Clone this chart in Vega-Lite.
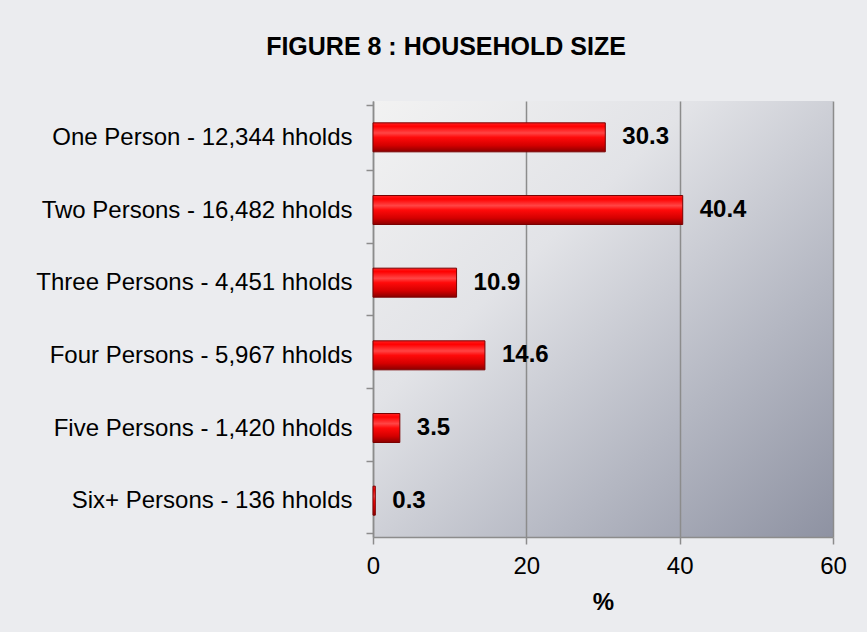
{
  "$schema": "https://vega.github.io/schema/vega-lite/v6.json",
  "autosize": "none",
  "width": 460,
  "height": 436,
  "padding": {"left": 373, "top": 101, "right": 34, "bottom": 95},
  "background": "#ebecef",
  "title": {
    "text": "FIGURE 8 : HOUSEHOLD SIZE",
    "font": "Liberation Sans",
    "fontSize": 25,
    "fontWeight": "bold",
    "color": "#000000",
    "anchor": "middle",
    "baseline": "alphabetic",
    "offset": 9,
    "dx": -157
  },
  "config": {
    "font": "Liberation Sans",
    "view": {
      "stroke": null,
      "fill": {
        "gradient": "linear",
        "x1": 0, "y1": 0, "x2": 1, "y2": 1,
        "stops": [
          {"offset": 0, "color": "#f2f2f2"},
          {"offset": 0.35, "color": "#e2e3e7"},
          {"offset": 0.7, "color": "#b4b7c2"},
          {"offset": 1, "color": "#8e92a2"}
        ]
      }
    }
  },
  "data": {
    "values": [
      {"label": "One Person - 12,344 hholds", "pct": 30.3},
      {"label": "Two Persons - 16,482 hholds", "pct": 40.4},
      {"label": "Three Persons - 4,451 hholds", "pct": 10.9},
      {"label": "Four Persons - 5,967 hholds", "pct": 14.6},
      {"label": "Five Persons - 1,420 hholds", "pct": 3.5},
      {"label": "Six+ Persons - 136 hholds", "pct": 0.3}
    ]
  },
  "encoding": {
    "y": {
      "field": "label",
      "type": "nominal",
      "sort": null,
      "axis": {
        "title": null,
        "tickBand": "extent",
        "tickSize": 7,
        "tickColor": "#8c8c8c",
        "tickWidth": 1.5,
        "domainColor": "#8c8c8c",
        "domainWidth": 1.5,
        "labelFontSize": 24,
        "labelColor": "#000000",
        "labelPadding": 14,
        "labelLimit": 400
      }
    },
    "x": {
      "field": "pct",
      "type": "quantitative",
      "scale": {"domain": [0, 60]},
      "axis": {
        "title": "%",
        "values": [0, 20, 40, 60],
        "labelFlush": false,
        "grid": true,
        "gridColor": "#8c8c8c",
        "gridWidth": 1.5,
        "tickSize": 7,
        "tickColor": "#8c8c8c",
        "tickWidth": 1.5,
        "domainColor": "#8c8c8c",
        "domainWidth": 1.5,
        "labelFontSize": 24,
        "labelColor": "#000000",
        "labelPadding": 10,
        "titleFontSize": 24,
        "titleFontWeight": "bold",
        "titleColor": "#000000",
        "titlePadding": 12
      }
    }
  },
  "layer": [
    {
      "mark": {
        "type": "bar",
        "size": 29,
        "stroke": "#7a0000",
        "strokeWidth": 1,
        "fill": {
          "gradient": "linear",
          "x1": 0, "y1": 0, "x2": 0, "y2": 1,
          "stops": [
            {"offset": 0, "color": "#ff2020"},
            {"offset": 0.12, "color": "#ff0000"},
            {"offset": 0.35, "color": "#ff4545"},
            {"offset": 0.5, "color": "#ff0a0a"},
            {"offset": 0.78, "color": "#d40000"},
            {"offset": 1, "color": "#8a0000"}
          ]
        }
      }
    },
    {
      "mark": {
        "type": "text",
        "align": "left",
        "baseline": "middle",
        "dx": 17,
        "fontSize": 24,
        "fontWeight": "bold",
        "color": "#000000"
      },
      "encoding": {
        "text": {"field": "pct", "type": "quantitative", "format": ".1f"}
      }
    }
  ]
}
